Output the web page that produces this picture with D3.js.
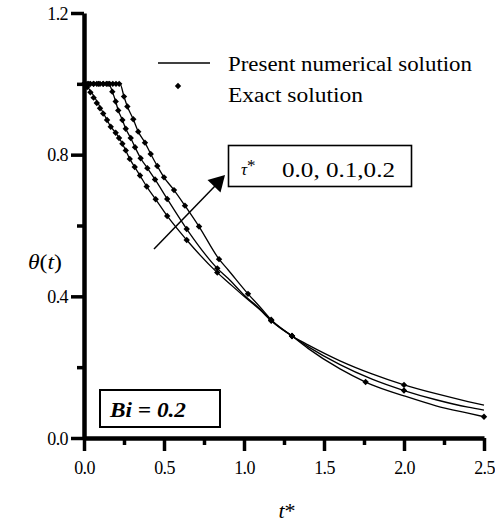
<!DOCTYPE html>
<html><head><meta charset="utf-8">
<script src="https://cdn.jsdelivr.net/npm/d3@7"></script>
<style>
body{margin:0;background:#fff}
svg{display:block}
text{font-family:"Liberation Serif","Times New Roman",serif;fill:#000}
</style>
</head><body>
<svg id="c" width="495" height="524"></svg>
<script>
// ---------------- data ----------------
const xTicks = [0.0, 0.5, 1.0, 1.5, 2.0, 2.5];
const xMinorTicks = [0.25, 0.75, 1.25, 1.75, 2.25];
const yTicks = [0.0, 0.4, 0.8, 1.2];
const yMinorTicks = [0.2, 0.6, 1.0];

// tau* = 0.0
const lineA_t = [0, 0.019, 0.144, 0.167, 0.198, 0.219, 0.24, 0.261, 0.286, 0.317, 0.35, 0.392, 0.448, 0.52, 0.642, 0.833, 0.9, 1.0, 1.1, 1.17, 1.3, 1.4, 1.6, 1.8, 2.0, 2.2, 2.4, 2.5];
const lineA_v = [1.0, 0.992, 0.898, 0.879, 0.862, 0.847, 0.831, 0.812, 0.788, 0.765, 0.741, 0.71, 0.674, 0.627, 0.559, 0.467, 0.44, 0.4, 0.362, 0.331, 0.288, 0.263, 0.218, 0.181, 0.150, 0.125, 0.103, 0.093];
const markA_t = [0, 0.02, 0.04, 0.06, 0.08, 0.1, 0.12, 0.144, 0.167, 0.198, 0.219, 0.24, 0.261, 0.286, 0.317, 0.35, 0.392, 0.448, 0.52, 0.642, 0.833, 1.17, 1.3, 2.0];
const markA_v = [1.0, 0.991, 0.976, 0.961, 0.946, 0.931, 0.916, 0.898, 0.879, 0.862, 0.847, 0.831, 0.812, 0.788, 0.765, 0.741, 0.71, 0.674, 0.627, 0.559, 0.467, 0.331, 0.288, 0.150];

// tau* = 0.1
const lineB_t = [0, 0.155, 0.177, 0.198, 0.214, 0.24, 0.261, 0.292, 0.319, 0.354, 0.396, 0.444, 0.52, 0.642, 0.833, 0.9, 1.0, 1.1, 1.17, 1.3, 1.4, 1.6, 1.8, 2.0, 2.2, 2.4, 2.5];
const lineB_v = [1.0, 1.0, 0.978, 0.95, 0.925, 0.898, 0.873, 0.847, 0.821, 0.79, 0.762, 0.73, 0.675, 0.59, 0.479, 0.451, 0.404, 0.364, 0.332, 0.288, 0.258, 0.207, 0.166, 0.134, 0.108, 0.087, 0.079];
const markB_t = [0.03, 0.06, 0.09, 0.12, 0.15, 0.177, 0.198, 0.214, 0.24, 0.261, 0.292, 0.319, 0.354, 0.396, 0.444, 0.52, 0.642, 0.833, 1.17, 1.3, 2.0];
const markB_v = [1.0, 1.0, 1.0, 1.0, 1.0, 0.978, 0.95, 0.925, 0.898, 0.873, 0.847, 0.821, 0.79, 0.762, 0.73, 0.675, 0.59, 0.479, 0.332, 0.288, 0.134];

// tau* = 0.2
const lineC_t = [0, 0.225, 0.25, 0.271, 0.308, 0.339, 0.381, 0.417, 0.458, 0.5, 0.5625, 0.631, 0.719, 0.844, 0.9, 1.025, 1.1, 1.17, 1.3, 1.4, 1.6, 1.76, 1.8, 2.0, 2.2, 2.4, 2.5];
const lineC_v = [1.0, 1.0, 0.964, 0.936, 0.9, 0.865, 0.834, 0.802, 0.768, 0.736, 0.70, 0.656, 0.597, 0.505, 0.475, 0.407, 0.37, 0.334, 0.288, 0.253, 0.195, 0.158, 0.150, 0.119, 0.091, 0.070, 0.060];
const markC_t = [0, 0.02, 0.04, 0.06, 0.08, 0.1, 0.12, 0.14, 0.16, 0.18, 0.2, 0.22, 0.25, 0.271, 0.308, 0.339, 0.381, 0.417, 0.458, 0.5, 0.5625, 0.631, 0.719, 0.844, 1.025, 1.17, 1.3, 1.76, 2.5];
const markC_v = [1.0, 1.0, 1.0, 1.0, 1.0, 1.0, 1.0, 1.0, 1.0, 1.0, 1.0, 1.0, 0.964, 0.936, 0.9, 0.865, 0.834, 0.802, 0.768, 0.736, 0.70, 0.656, 0.597, 0.505, 0.407, 0.334, 0.288, 0.158, 0.060];

const legendLabels = ["Present numerical solution", "Exact solution"];
const tauLabel = "0.0, 0.1,0.2";
const biLabel = "Bi = 0.2";

// ---------------- drawing ----------------
const svg = d3.select('#c');
const x = d3.scaleLinear().domain([0, 2.5]).range([84, 484]);
const y = d3.scaleLinear().domain([0, 1.2]).range([438, 13]);

const zip = (ts, vs) => ts.map((t, i) => [t, vs[i]]);
const line = d3.line().x(d => x(d[0])).y(d => y(d[1])).curve(d3.curveMonotoneX);
const diamond = d3.symbol().type(d3.symbolDiamond2).size(26);

const series = [
  {line: zip(lineA_t, lineA_v), marks: zip(markA_t, markA_v)},
  {line: zip(lineB_t, lineB_v), marks: zip(markB_t, markB_v)},
  {line: zip(lineC_t, lineC_v), marks: zip(markC_t, markC_v)}
];

const gData = svg.append('g');
series.forEach(s => {
  gData.append('path').attr('d', line(s.line)).attr('fill', 'none')
    .attr('stroke', '#000').attr('stroke-width', 1.3);
  gData.selectAll(null).data(s.marks).enter().append('path')
    .attr('d', diamond).attr('fill', '#000')
    .attr('transform', d => `translate(${x(d[0])},${y(d[1])})`);
});

// axes
function styleAxis(g, keepDomain) {
  if (keepDomain) {
    g.select('.domain').attr('stroke', '#000').attr('stroke-width', 4.5)
      .style('stroke', '#000').style('stroke-width', '4.5px').style('fill', 'none');
  } else {
    g.select('.domain').remove();
  }
  g.selectAll('.tick line').attr('stroke', '#000').attr('stroke-width', 3.5)
    .style('stroke', '#000').style('stroke-width', '3.5px');
}
const xAxis = svg.append('g').attr('transform', `translate(0,${y(0)})`)
  .call(d3.axisBottom(x).tickValues(xTicks).tickFormat(d3.format('.1f')).tickSize(13).tickSizeOuter(0));
const xMinor = svg.append('g').attr('transform', `translate(0,${y(0)})`)
  .call(d3.axisBottom(x).tickValues(xMinorTicks).tickFormat('').tickSize(7).tickSizeOuter(0));
const yAxis = svg.append('g').attr('transform', `translate(${x(0)},0)`)
  .call(d3.axisLeft(y).tickValues(yTicks).tickFormat(d3.format('.1f')).tickSize(13).tickSizeOuter(0));
const yMinor = svg.append('g').attr('transform', `translate(${x(0)},0)`)
  .call(d3.axisLeft(y).tickValues(yMinorTicks).tickFormat('').tickSize(7).tickSizeOuter(0));
styleAxis(xAxis, true); styleAxis(xMinor, false); styleAxis(yAxis, true); styleAxis(yMinor, false);

xAxis.selectAll('.tick text').attr('y', 36).attr('dy', 0)
  .style('font-family', '"Liberation Serif",serif').style('font-size', '18px')
  .attr('letter-spacing', -0.6);
yAxis.selectAll('.tick text').attr('x', -16).attr('dy', '0.34em')
  .style('font-family', '"Liberation Serif",serif').style('font-size', '18px')
  .attr('letter-spacing', -0.6);

// axis titles
const xt = svg.append('text').attr('x', 287).attr('y', 518).attr('text-anchor', 'middle')
  .style('font-size', '22px');
xt.append('tspan').style('font-style', 'italic').text('t');
xt.append('tspan').text('*');

const yt = svg.append('text').attr('x', 28).attr('y', 269).style('font-size', '21px')
  .attr('textLength', 34).attr('lengthAdjust', 'spacingAndGlyphs');
yt.append('tspan').style('font-style', 'italic').text('θ');
yt.append('tspan').text('(');
yt.append('tspan').style('font-style', 'italic').text('t');
yt.append('tspan').text(')');

// legend
svg.append('line').attr('x1', 158).attr('x2', 210).attr('y1', 63).attr('y2', 63)
  .attr('stroke', '#000').attr('stroke-width', 1.4);
svg.append('path').attr('d', diamond).attr('transform', 'translate(178,86)');
svg.append('text').attr('x', 228).attr('y', 71).style('font-size', '20px')
  .attr('textLength', 244).attr('lengthAdjust', 'spacingAndGlyphs').text(legendLabels[0]);
svg.append('text').attr('x', 228).attr('y', 102).style('font-size', '20px')
  .attr('textLength', 135).attr('lengthAdjust', 'spacingAndGlyphs').text(legendLabels[1]);

// tau box
svg.append('rect').attr('x', 228.5).attr('y', 145.5).attr('width', 183).attr('height', 41)
  .attr('fill', 'none').attr('stroke', '#000').attr('stroke-width', 1.6);
const tt = svg.append('text').attr('x', 241).attr('y', 175).style('font-size', '17px');
tt.append('tspan').style('font-style', 'italic').text('τ');
tt.append('tspan').attr('dy', -4).text('*');
svg.append('text').attr('x', 282).attr('y', 177).style('font-size', '21px')
  .attr('textLength', 113).attr('lengthAdjust', 'spacingAndGlyphs').text(tauLabel);

// arrow
svg.append('line').attr('x1', 154).attr('y1', 249).attr('x2', 215).attr('y2', 186)
  .attr('stroke', '#000').attr('stroke-width', 1.5);
svg.append('path').attr('d', 'M225,175 L220.5,192.5 L207.5,180 Z').attr('fill', '#000');

// Bi box
svg.append('rect').attr('x', 100).attr('y', 390).attr('width', 120).attr('height', 37)
  .attr('fill', 'none').attr('stroke', '#000').attr('stroke-width', 2);
svg.append('text').attr('x', 110).attr('y', 417).style('font-size', '21px')
  .style('font-weight', 'bold').style('font-style', 'italic')
  .attr('textLength', 76).attr('lengthAdjust', 'spacingAndGlyphs').text(biLabel);
</script>
</body></html>
